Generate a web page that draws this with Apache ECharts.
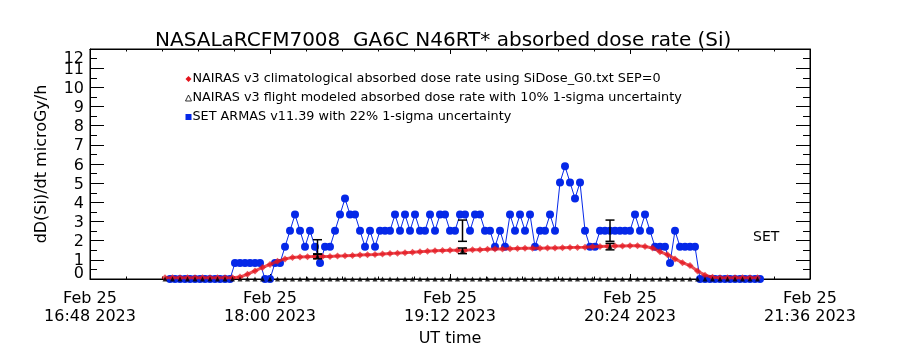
<!DOCTYPE html>
<html lang="en">
<head>
    <meta charset="UTF-8">
    <title>NASALaRCFM7008 absorbed dose rate</title>
    <script src="https://cdn.jsdelivr.net/npm/echarts@6/dist/echarts.min.js"></script>
    <style>
        body { margin: 0; background: #fff; }
        #chart { width: 900px; height: 350px; }
    </style>
</head>
<body>
    <div id="chart"></div>
    <script>
        // Tick labels of the time axis (every 72 minutes from 16:48)
        var xTickLabels = ['Feb 25\n16:48 2023', 'Feb 25\n18:00 2023', 'Feb 25\n19:12 2023', 'Feb 25\n20:24 2023', 'Feb 25\n21:36 2023'];
        var axisStart = '16:48';
        var axisEnd = '21:36';

        // NAIRAS model samples: first time and step in minutes
        var nairasStart = '17:18';
        var nairasStep = 3;
        var climValues = [
            0.07, 0.07, 0.07, 0.07, 0.07, 0.07, 0.07, 0.07, 0.07, 0.07,
            0.10, 0.25, 0.42, 0.60, 0.76, 0.92, 1.05, 1.12, 1.15, 1.16,
            1.17, 1.17, 1.18, 1.20, 1.21, 1.23, 1.25, 1.27, 1.28, 1.30,
            1.33, 1.35, 1.37, 1.39, 1.42, 1.45, 1.47, 1.49, 1.50, 1.50,
            1.50, 1.52, 1.53, 1.55, 1.56, 1.57, 1.58, 1.59, 1.60, 1.61,
            1.61, 1.62, 1.62, 1.63, 1.64, 1.65, 1.66, 1.68, 1.70, 1.71,
            1.72, 1.72, 1.73, 1.73, 1.70, 1.62, 1.42, 1.27, 1.05, 0.85,
            0.70, 0.42, 0.20, 0.09, 0.07, 0.07, 0.07, 0.07, 0.07, 0.07
        ];
        var flightValues = [
            0, 0, 0, 0, 0, 0, 0, 0, 0, 0, 0, 0, 0, 0, 0, 0, 0, 0, 0, 0,
            0, 0, 0, 0, 0, 0, 0, 0, 0, 0, 0, 0, 0, 0, 0, 0, 0, 0, 0, 0,
            0, 0, 0, 0, 0, 0, 0, 0, 0, 0, 0, 0, 0, 0, 0, 0, 0, 0, 0, 0,
            0, 0, 0, 0, 0, 0, 0, 0, 0, 0, 0, 0, 0, 0, 0, 0, 0, 0, 0, 0
        ];

        // Points that carry uncertainty bars
        var errTimes = ['18:19', '19:17', '20:16'];
        var flightErrValues = [1.17, 1.47, 1.69];
        var armasErrValues = [1.68, 2.52, 2.52];
        var flightSigma = 0.10;
        var armasSigma = 0.22;

        // SET ARMAS samples: first time and step in minutes
        var armasStart = '17:20';
        var armasStep = 2;
        var armasValues = [
            0, 0, 0, 0, 0, 0, 0, 0, 0, 0, 0, 0, 0,
            0.84, 0.84, 0.84, 0.84, 0.84, 0.84, 0, 0, 0.84, 0.84,
            1.68, 2.52, 3.36, 2.52, 1.68, 2.52, 1.68, 0.84, 1.68, 1.68,
            2.52, 3.36, 4.2, 3.36, 3.36, 2.52, 1.68, 2.52, 1.68,
            2.52, 2.52, 2.52, 3.36, 2.52, 3.36,
            2.52, 3.36, 2.52, 2.52, 3.36, 2.52, 3.36, 3.36,
            2.52, 2.52, 3.36, 3.36, 2.52, 3.36, 3.36,
            2.52, 2.52, 1.68, 2.52, 1.68, 3.36, 2.52, 3.36, 2.52, 3.36,
            1.68, 2.52, 2.52, 3.36, 2.52,
            5.04, 5.88, 5.04, 4.2, 5.04, 2.52, 1.68, 1.68,
            2.52, 2.52, 2.52, 2.52, 2.52, 2.52, 2.52, 3.36, 2.52, 3.36, 2.52,
            1.68, 1.68, 1.68, 0.84, 2.52, 1.68, 1.68, 1.68, 1.68,
            0, 0, 0, 0, 0, 0, 0, 0, 0, 0, 0, 0, 0
        ];

        var legendNames = [
            'NAIRAS v3 climatological absorbed dose rate using SiDose_G0.txt SEP=0',
            'NAIRAS v3 flight modeled absorbed dose rate with 10% 1-sigma uncertainty',
            'SET ARMAS v11.39 with 22% 1-sigma uncertainty'
        ];

        var FONT = 'DejaVu Sans';
        var BLUE = '#0528e8';
        var RED = '#e4141c';
        var Y_MIN = 0, Y_MAX = 12;

        // minutes since the start of the axis
        function toMin(hhmm) {
            var p = hhmm.split(':');
            var s = axisStart.split(':');
            return (+p[0] * 60 + +p[1]) - (+s[0] * 60 + +s[1]);
        }

        function seriesPoints(start, step, values) {
            var t0 = toMin(start);
            return values.map(function (v, i) { return [t0 + i * step, v]; });
        }

        function errorBars(values, sigma) {
            return errTimes.map(function (t, i) {
                return [toMin(t), values[i] * (1 - sigma), values[i] * (1 + sigma)];
            });
        }

        function renderErrorBar(params, api) {
            var x = api.value(0);
            var lo = api.coord([x, api.value(1)]);
            var hi = api.coord([x, api.value(2)]);
            var w = 4.5;
            var st = { stroke: '#000', lineWidth: 1.5 };
            return {
                type: 'group',
                children: [
                    { type: 'line', shape: { x1: lo[0], y1: lo[1], x2: hi[0], y2: hi[1] }, style: st },
                    { type: 'line', shape: { x1: lo[0] - w, y1: lo[1], x2: lo[0] + w, y2: lo[1] }, style: st },
                    { type: 'line', shape: { x1: hi[0] - w, y1: hi[1], x2: hi[0] + w, y2: hi[1] }, style: st }
                ]
            };
        }

        var flightPoints = seriesPoints(nairasStart, nairasStep, flightValues).concat(
            errTimes.map(function (t, i) { return [toMin(t), flightErrValues[i]]; })
        );

        var chart = echarts.init(document.getElementById('chart'), null, { renderer: 'canvas' });

        var xMax = toMin(axisEnd);
        var blackLine = { show: true, onZero: false, lineStyle: { color: '#000', width: 1 } };

        function xAxisFor(pos) {
            return {
                type: 'value', position: pos,
                min: 0, max: xMax, interval: 72,
                axisLine: blackLine,
                axisTick: { show: true, inside: true, length: 5, lineStyle: { color: '#000' } },
                minorTick: { show: true, splitNumber: 5, length: 2.5, lineStyle: { color: '#000' } },
                splitLine: { show: false },
                axisLabel: { show: false }
            };
        }

        function yAxisFor(pos) {
            return {
                type: 'value', position: pos,
                min: Y_MIN, max: Y_MAX, interval: 1,
                axisLine: blackLine,
                axisTick: { show: true, inside: true, length: 14, lineStyle: { color: '#000' } },
                minorTick: { show: true, splitNumber: 2, length: 7, lineStyle: { color: '#000' } },
                splitLine: { show: false },
                axisLabel: { show: false }
            };
        }

        var xBottom = xAxisFor('bottom');
        xBottom.name = 'UT time';
        xBottom.nameLocation = 'middle';
        xBottom.nameGap = 42;
        xBottom.nameTextStyle = { fontFamily: FONT, fontSize: 16, color: '#000' };
        xBottom.axisLabel = {
            show: true, fontFamily: FONT, fontSize: 16, color: '#000', margin: 11, lineHeight: 18,
            formatter: function (v) { return xTickLabels[Math.round(v / 72)] || ''; }
        };

        // left axis: inner tick labels 1..11
        var yLeft = yAxisFor('left');
        yLeft.name = 'dD(Si)/dt microGy/h';
        yLeft.nameLocation = 'middle';
        yLeft.nameGap = 40;
        yLeft.nameTextStyle = { fontFamily: FONT, fontSize: 16, color: '#000' };
        yLeft.axisLabel = {
            show: true, margin: 6,
            formatter: function (v) { return (v === Y_MIN || v === Y_MAX) ? '' : '{n|' + v + '}'; },
            rich: { n: { fontFamily: FONT, fontSize: 16, color: '#000', padding: [3, 0, 0, 0] } }
        };

        // left axis twin carrying only the end labels, pulled inside the frame
        var yEnds = yAxisFor('left');
        yEnds.axisLine = { show: false, onZero: false };
        yEnds.axisTick = { show: false };
        yEnds.minorTick = { show: false };
        yEnds.axisLabel = {
            show: true, margin: 6, showMinLabel: true, showMaxLabel: true,
            verticalAlignMinLabel: 'bottom', verticalAlignMaxLabel: 'top',
            formatter: function (v) {
                if (v === Y_MAX) return '{t|' + v + '}';
                if (v === Y_MIN) return '{b|' + v + '}';
                return '';
            },
            rich: {
                t: { fontFamily: FONT, fontSize: 16, color: '#000', lineHeight: 20 },
                b: { fontFamily: FONT, fontSize: 16, color: '#000', lineHeight: 10 }
            }
        };

        chart.setOption({
            animation: false,
            backgroundColor: '#fff',
            textStyle: { fontFamily: FONT, color: '#000' },
            title: {
                text: 'NASALaRCFM7008  GA6C N46RT* absorbed dose rate (Si)',
                left: 150, top: 26,
                textStyle: { fontFamily: FONT, fontSize: 20, fontWeight: 'normal', color: '#000' }
            },
            legend: {
                orient: 'vertical',
                left: 180, top: 67,
                itemWidth: 6, itemHeight: 6, itemGap: 5,
                selectedMode: false,
                textStyle: { fontFamily: FONT, fontSize: 12.8, color: '#000', lineHeight: 14, padding: [0, 0, 0, -4] },
                data: [
                    { name: legendNames[0], icon: 'diamond', itemStyle: { color: RED } },
                    { name: legendNames[1], icon: 'triangle', itemStyle: { color: '#fff', borderColor: '#000', borderWidth: 1 } },
                    { name: legendNames[2], icon: 'rect', itemStyle: { color: BLUE } }
                ]
            },
            grid: {
                left: 90, right: 90, top: 49, bottom: 71,
                outerBoundsMode: 'none', containLabel: false,
                show: true, borderColor: '#000', borderWidth: 1, backgroundColor: 'transparent'
            },
            xAxis: [xBottom, xAxisFor('top')],
            yAxis: [yLeft, yAxisFor('right'), yEnds],
            graphic: [{
                type: 'text', left: 753, top: 230,
                style: { text: 'SET', fontFamily: FONT, fontSize: 14, fill: '#000' }
            }],
            series: [{
                name: legendNames[2],
                type: 'line',
                data: seriesPoints(armasStart, armasStep, armasValues),
                symbol: 'circle', symbolSize: 8,
                itemStyle: { color: BLUE },
                lineStyle: { color: BLUE, width: 1 },
                z: 2
            }, {
                name: legendNames[0],
                type: 'line',
                data: seriesPoints(nairasStart, nairasStep, climValues),
                symbol: 'diamond', symbolSize: 7,
                itemStyle: { color: 'rgba(228,20,28,0.7)' },
                lineStyle: { color: 'rgba(228,20,28,0.75)', width: 3 },
                z: 3
            }, {
                name: legendNames[1],
                type: 'scatter',
                data: flightPoints,
                symbol: 'triangle', symbolSize: 5,
                itemStyle: { color: '#000' },
                z: 4
            }, {
                type: 'custom',
                data: errorBars(armasErrValues, armasSigma),
                renderItem: renderErrorBar,
                encode: { x: 0, y: [1, 2] },
                z: 5
            }, {
                type: 'custom',
                data: errorBars(flightErrValues, flightSigma),
                renderItem: renderErrorBar,
                encode: { x: 0, y: [1, 2] },
                z: 5
            }]
        });
    </script>
</body>
</html>
